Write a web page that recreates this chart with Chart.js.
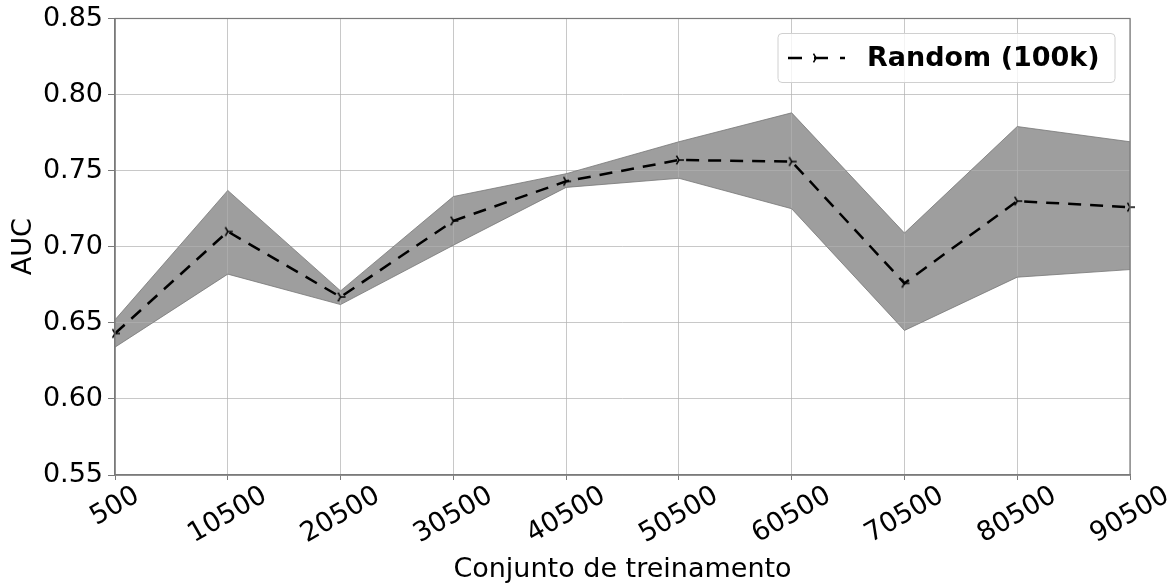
<!DOCTYPE html>
<html>
<head>
<meta charset="utf-8">
<script src="https://cdn.jsdelivr.net/npm/chart.js@4"></script>
<style>
  body { margin: 0; background: #fff; }
  #wrap { width: 1176px; height: 588px; }
</style>
</head>
<body>
<div id="wrap"><canvas id="auc-chart" width="1176" height="588"></canvas></div>
<script>
// Data
const trainSizes = ["500", "10500", "20500", "30500", "40500", "50500", "60500", "70500", "80500", "90500"];
const aucMean = [0.643, 0.710, 0.667, 0.717, 0.743, 0.757, 0.756, 0.676, 0.730, 0.726];
const aucUpper = [0.652, 0.737, 0.671, 0.733, 0.748, 0.769, 0.788, 0.709, 0.779, 0.769];
const aucLower = [0.634, 0.682, 0.662, 0.701, 0.739, 0.745, 0.725, 0.645, 0.680, 0.685];
const legendLabel = "Random (100k)";

const FONT = "'DejaVu Sans', sans-serif";
const FONT_SIZE = 27;

// tri_right marker like matplotlib "4"
function makeTriRight(size) {
  const c = document.createElement("canvas");
  c.width = size;
  c.height = size;
  const g = c.getContext("2d");
  const m = size / 2;
  const r = size / 2 - 1;
  g.strokeStyle = "#000";
  g.lineWidth = 1.5;
  g.beginPath();
  g.moveTo(m, m); g.lineTo(m + r, m);
  g.moveTo(m, m); g.lineTo(m - r * 0.5, m - r * 0.866);
  g.moveTo(m, m); g.lineTo(m - r * 0.5, m + r * 0.866);
  g.stroke();
  return c;
}
const triMarker = makeTriRight(12);

// Frame (top/right spines) + rotated, centered x labels + legend box
const extrasPlugin = {
  id: "extras",
  afterDraw(chart) {
    const ctx = chart.ctx;
    const area = chart.chartArea;
    const xScale = chart.scales.x;

    ctx.save();
    ctx.strokeStyle = "#7a7a7a";
    ctx.lineWidth = 1.2;
    ctx.strokeRect(area.left, area.top, area.right - area.left, area.bottom - area.top);

    // x tick labels, rotated 30 deg, centered on the tick
    ctx.font = FONT_SIZE + "px " + FONT;
    ctx.fillStyle = "#000";
    ctx.textAlign = "center";
    ctx.textBaseline = "middle";
    const ang = 30 * Math.PI / 180;
    trainSizes.forEach((lbl, i) => {
      const x = xScale.getPixelForTick(i);
      const w = ctx.measureText(lbl).width;
      const h = FONT_SIZE * 0.75;
      const boxH = w * Math.sin(ang) + h * Math.cos(ang);
      const y = area.bottom + 10 + boxH / 2;
      ctx.save();
      ctx.translate(x, y);
      ctx.rotate(-ang);
      ctx.fillText(lbl, 0, 0);
      ctx.restore();
    });

    // legend
    const bx = area.right - 352, by = area.top + 15, bw = 337, bh = 49;
    ctx.fillStyle = "rgba(255,255,255,0.8)";
    ctx.strokeStyle = "#d0d0d0";
    ctx.lineWidth = 1;
    ctx.beginPath();
    ctx.roundRect(bx, by, bw, bh, 4);
    ctx.fill();
    ctx.stroke();

    const ly = by + bh / 2;
    ctx.strokeStyle = "#000";
    ctx.lineWidth = 2.5;
    ctx.setLineDash([14, 12]);
    ctx.beginPath();
    ctx.moveTo(bx + 10, ly);
    ctx.lineTo(bx + 67, ly);
    ctx.stroke();
    ctx.setLineDash([]);
    ctx.drawImage(triMarker, bx + 38 - 6, ly - 6);

    ctx.font = "bold " + FONT_SIZE + "px " + FONT;
    ctx.fillStyle = "#000";
    ctx.textAlign = "left";
    ctx.fillText(legendLabel, bx + 89, ly + 1);
    ctx.restore();
  }
};

const ctx = document.getElementById("auc-chart").getContext("2d");

new Chart(ctx, {
  type: "line",
  data: {
    labels: trainSizes,
    datasets: [
      {
        label: legendLabel,
        data: aucMean,
        borderColor: "#000",
        borderWidth: 2.5,
        borderDash: [13, 9],
        pointStyle: triMarker,
        pointRadius: 6,
        fill: false,
        tension: 0
      },
      {
        label: "upper",
        data: aucUpper,
        borderColor: "rgba(120,120,120,0.8)",
        borderWidth: 1,
        backgroundColor: "rgb(158,158,158)",
        pointRadius: 0,
        fill: "+1",
        tension: 0
      },
      {
        label: "lower",
        data: aucLower,
        borderColor: "rgba(120,120,120,0.8)",
        borderWidth: 1,
        pointRadius: 0,
        fill: false,
        tension: 0
      }
    ]
  },
  options: {
    responsive: false,
    animation: false,
    layout: { padding: { left: 0, right: 46, top: 18, bottom: 0 } },
    plugins: {
      legend: { display: false },
      tooltip: { enabled: false },
      filler: { drawTime: "beforeDraw" }
    },
    scales: {
      x: {
        offset: false,
        grid: {
          color: "rgba(176,176,176,0.7)",
          tickColor: "#7a7a7a",
          tickLength: 5
        },
        border: { color: "#7a7a7a", width: 1.2 },
        ticks: {
          color: "rgba(0,0,0,0)",
          font: { family: FONT, size: FONT_SIZE },
          minRotation: 30,
          maxRotation: 30,
          autoSkip: false
        },
        title: {
          display: true,
          text: "Conjunto de treinamento",
          color: "#000",
          font: { family: FONT, size: FONT_SIZE },
          padding: { top: 0, bottom: 2 }
        },
        afterFit(scale) { scale.height = 113; }
      },
      y: {
        min: 0.55,
        max: 0.85,
        grid: {
          color: "rgba(176,176,176,0.7)",
          tickColor: "#7a7a7a",
          tickLength: 7
        },
        border: { color: "#7a7a7a", width: 1.2 },
        ticks: {
          stepSize: 0.05,
          color: "#000",
          padding: 5,
          font: { family: FONT, size: FONT_SIZE, lineHeight: 1 },
          callback: v => v.toFixed(2)
        },
        title: {
          display: true,
          text: "AUC",
          color: "#000",
          font: { family: FONT, size: FONT_SIZE },
          padding: { top: 8, bottom: 0 }
        },
        afterFit(scale) { scale.width = 115; }
      }
    }
  },
  plugins: [extrasPlugin]
});
</script>
</body>
</html>
